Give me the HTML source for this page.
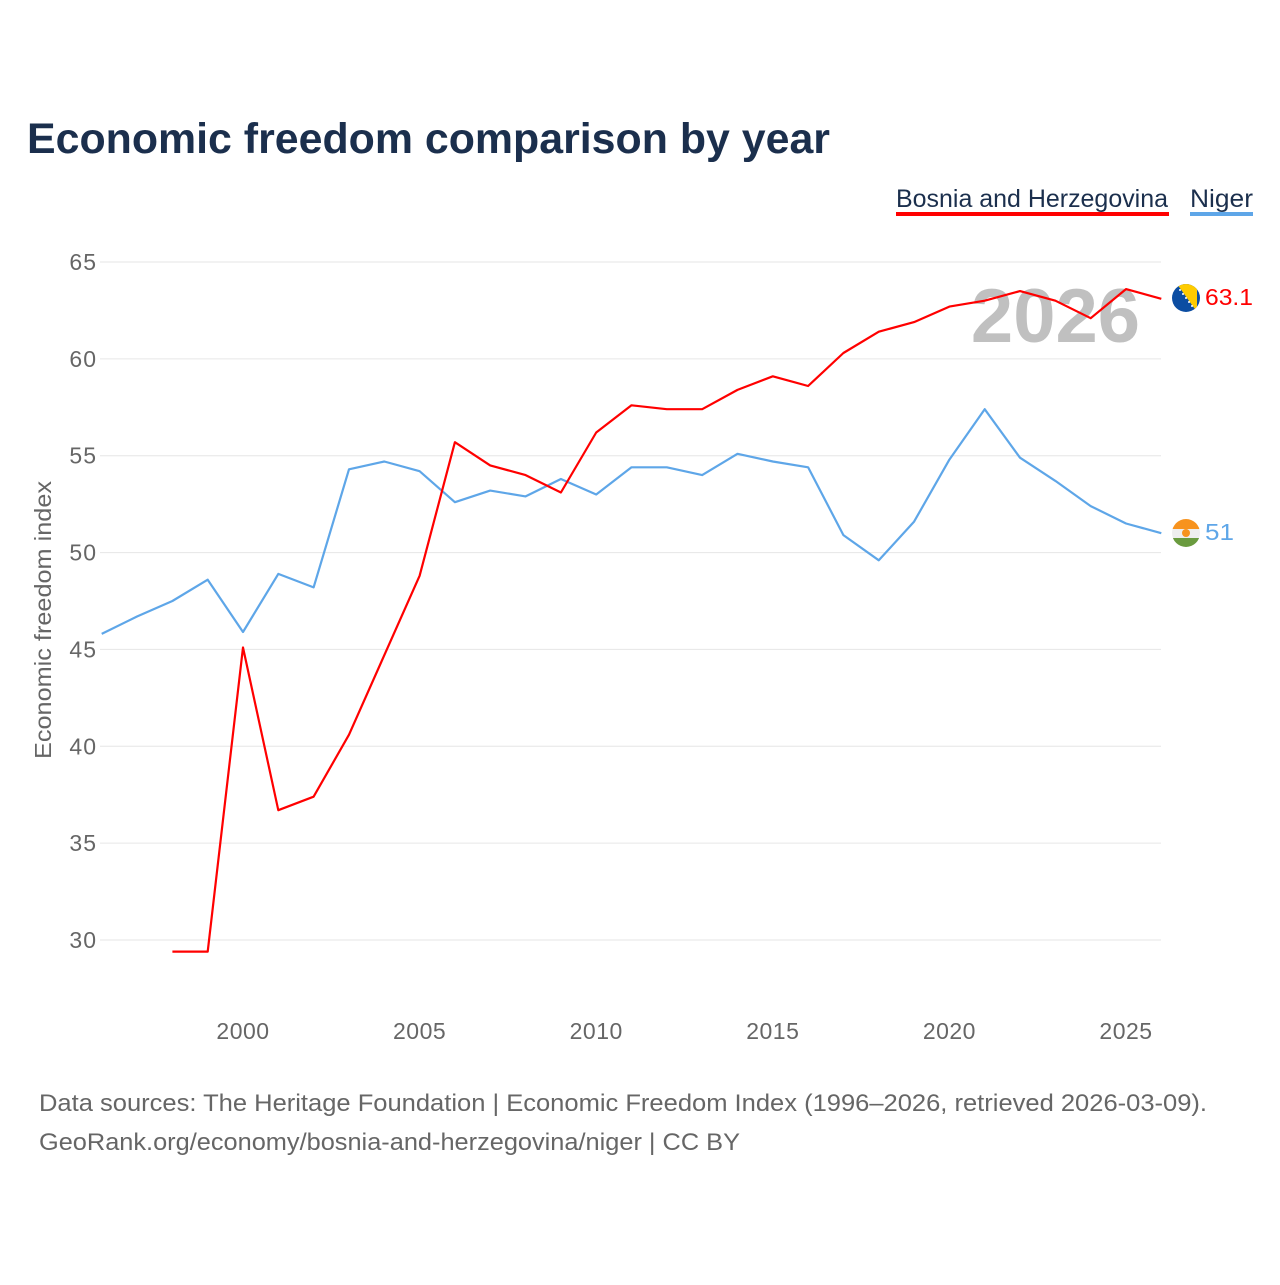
<!DOCTYPE html>
<html><head><meta charset="utf-8"><style>
body{margin:0;background:#fff;font-family:"Liberation Sans",sans-serif}
</style></head><body>
<svg width="1280" height="1280" viewBox="0 0 1280 1280" xmlns="http://www.w3.org/2000/svg">
<rect width="1280" height="1280" fill="#fff"/>
<text x="27" y="153" font-size="43" font-weight="bold" fill="#1b2f4d" textLength="803" lengthAdjust="spacingAndGlyphs">Economic freedom comparison by year</text>
<g>
<text x="896" y="207" font-size="25" fill="#1b2f4d" textLength="272" lengthAdjust="spacingAndGlyphs">Bosnia and Herzegovina</text>
<rect x="896" y="212" width="273" height="4" fill="#ff0000"/>
<text x="1190" y="207" font-size="25" fill="#1b2f4d" textLength="63" lengthAdjust="spacingAndGlyphs">Niger</text>
<rect x="1190" y="212" width="63" height="4" fill="#5ea6e8"/>
</g>
<text x="1140" y="342" font-size="76" font-weight="bold" fill="#c0c0c0" text-anchor="end">2026</text>
<g id="grid"></g>
<g id="xt"></g>
<text transform="translate(51,620) rotate(-90)" font-size="23" fill="#666" text-anchor="middle" textLength="278" lengthAdjust="spacingAndGlyphs">Economic freedom index</text>
<g id="lines"></g>
<g>
<clipPath id="bc"><circle cx="1186" cy="298" r="14"/></clipPath>
<g clip-path="url(#bc)">
<rect x="1172" y="284" width="28" height="28" fill="#0c4da2"/>
<path d="M1177 284 L1197 284 L1197 312 Z" fill="#fecb00"/>
<g fill="#fff"><circle cx="1180" cy="290" r="1"/><circle cx="1183" cy="294" r="1"/><circle cx="1186" cy="298" r="1"/><circle cx="1189" cy="302" r="1"/><circle cx="1192" cy="306" r="1"/></g>
</g>
<text x="1205" y="305" font-size="23" fill="#ff0000" textLength="48" lengthAdjust="spacingAndGlyphs">63.1</text>
<clipPath id="nc"><circle cx="1186" cy="533" r="14"/></clipPath>
<g clip-path="url(#nc)">
<rect x="1172" y="519" width="28" height="10" fill="#f7931e"/>
<rect x="1172" y="529" width="28" height="9" fill="#eee"/>
<rect x="1172" y="538" width="28" height="10" fill="#6a9b3f"/>
<circle cx="1186" cy="533" r="4" fill="#f7931e"/>
</g>
<text x="1205" y="540" font-size="23" fill="#5ea6e8" textLength="29" lengthAdjust="spacingAndGlyphs">51</text>
</g>
<text x="39" y="1111" font-size="24" fill="#666" textLength="1168" lengthAdjust="spacingAndGlyphs">Data sources: The Heritage Foundation | Economic Freedom Index (1996–2026, retrieved 2026-03-09).</text>
<text x="39" y="1150" font-size="24" fill="#666" textLength="701" lengthAdjust="spacingAndGlyphs">GeoRank.org/economy/bosnia-and-herzegovina/niger | CC BY</text>
</svg>
<script>
const years=[1996,1997,1998,1999,2000,2001,2002,2003,2004,2005,2006,2007,2008,2009,2010,2011,2012,2013,2014,2015,2016,2017,2018,2019,2020,2021,2022,2023,2024,2025,2026];
const nigerValues=[45.8,46.7,47.5,48.6,45.9,48.9,48.2,54.3,54.7,54.2,52.6,53.2,52.9,53.8,53.0,54.4,54.4,54.0,55.1,54.7,54.4,50.9,49.6,51.6,54.8,57.4,54.9,53.7,52.4,51.5,51.0];
const bosniaValues=[null,null,29.4,29.4,45.1,36.7,37.4,40.6,44.7,48.8,55.7,54.5,54.0,53.1,56.2,57.6,57.4,57.4,58.4,59.1,58.6,60.3,61.4,61.9,62.7,63.0,63.5,63.0,62.1,63.6,63.1];
const yTicks=[30,35,40,45,50,55,60,65];
const xTicks=[2000,2005,2010,2015,2020,2025];
const NS="http://www.w3.org/2000/svg";
function xS(y){return 243+(y-2000)*(1126-243)/25;}
function yS(v){return 940-(v-30)*(940-262)/35;}
function mk(t,a,p){const e=document.createElementNS(NS,t);for(const k in a)e.setAttribute(k,a[k]);p.appendChild(e);return e;}
const grid=document.getElementById('grid');
yTicks.forEach(v=>{
 const l=mk('line',{x1:100,x2:1161,y1:yS(v),y2:yS(v),stroke:'#e6e6e6','stroke-width':1},grid);
 
 
 const t=mk('text',{x:97,y:yS(v)+8,'font-size':23,fill:'#666','text-anchor':'end','letter-spacing':'1'},grid);
 t.textContent=v;
 
 
});
const xt=document.getElementById('xt');
xTicks.forEach(v=>{
 const t=mk('text',{x:xS(v),y:1039,'font-size':23,fill:'#666','text-anchor':'middle','letter-spacing':'0.5'},xt);
 t.textContent=v;
 
 
});
function line(vals,color,name){
 let d='';let started=false;
 vals.forEach((v,i)=>{if(v==null)return;d+=(started?'L':'M')+xS(years[i]).toFixed(1)+' '+yS(v).toFixed(1)+' ';started=true;});
 const p=mk('path',{d:d,fill:'none',stroke:color,'stroke-width':2.2,'stroke-linejoin':'round'},document.getElementById('lines'));
 
 
}
line(nigerValues,'#5ea6e8','niger-line');
line(bosniaValues,'#ff0000','bosnia-line');
</script>
</body></html>
